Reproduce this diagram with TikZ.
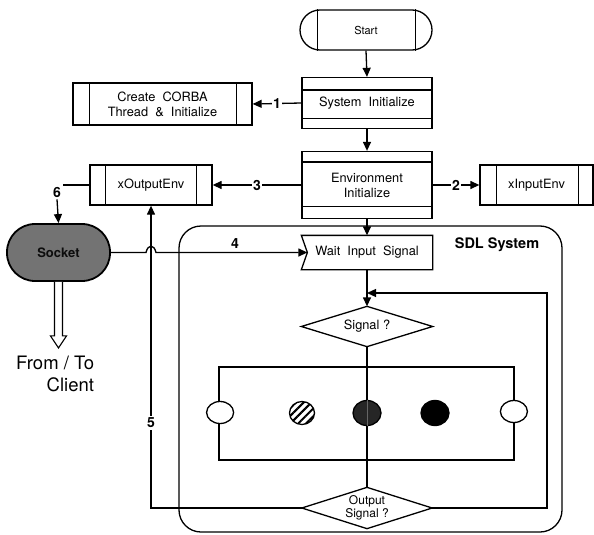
\documentclass[tikz,border=0pt]{standalone}
\usepackage{fontspec}
\setmainfont{TeX Gyre Heros}
\usetikzlibrary{arrows.meta,calc,patterns.meta,shapes.geometric}
\begin{document}
\begin{tikzpicture}[x=1pt,y=-1pt, line width=1.3pt,
  tip/.style={-{Triangle[length=9pt,width=8pt]}},
  box/.style={draw, rectangle, inner sep=0pt, font=\fontsize{12.8}{15}\selectfont, align=center},
  txt/.style={font=\fontsize{12.8}{15}\selectfont, align=center, inner sep=0pt},
  lbl/.style={font=\bfseries\fontsize{14}{16}\selectfont, fill=white, inner sep=1.5pt},
  blob/.style={draw, ellipse, inner sep=0pt, minimum width=27pt, minimum height=23pt}
]
\useasboundingbox (0,0) rectangle (594,535);

% SDL frame
\node[draw, rounded corners=22pt, minimum width=383pt, minimum height=306pt, line width=1.3pt] (sdl) at (370.5,379) {};
\node[font=\bfseries\fontsize{14.5}{16}\selectfont] (sdltitle) at (497,245) {SDL System};

% Start
\node[box, minimum width=132pt, minimum height=40pt, rounded corners=20pt, font=\fontsize{11}{12}\selectfont] (start) at (366,30) {Start};
\draw ($(start.north west)+(18,0)$) -- ($(start.south west)+(18,0)$);
\draw ($(start.north east)+(-17,0)$) -- ($(start.south east)+(-17,0)$);

% System Initialize
\node[box, minimum width=130pt, minimum height=51pt] (sys) at (367,103) {System\ \ Initialize};
\draw ($(sys.north west)+(0,13)$) -- ($(sys.north east)+(0,13)$);
\draw ($(sys.south west)+(0,-11)$) -- ($(sys.south east)+(0,-11)$);

% Environment Initialize
\node[box, minimum width=130pt, minimum height=67pt] (env) at (367,185) {Environment\\Initialize};
\draw ($(env.north west)+(0,11)$) -- ($(env.north east)+(0,11)$);
\draw ($(env.south west)+(0,-13)$) -- ($(env.south east)+(0,-13)$);

% Create CORBA
\node[box, minimum width=179pt, minimum height=42pt] (corba) at (162.5,104) {Create\ \ CORBA\\Thread \ \&\ \ Initialize};
\draw ($(corba.north west)+(17,0)$) -- ($(corba.south west)+(17,0)$);
\draw ($(corba.north east)+(-16,0)$) -- ($(corba.south east)+(-16,0)$);

% xOutputEnv
\node[box, minimum width=122pt, minimum height=40pt] (xout) at (151,185) {xOutputEnv};
\draw ($(xout.north west)+(16,0)$) -- ($(xout.south west)+(16,0)$);
\draw ($(xout.north east)+(-16,0)$) -- ($(xout.south east)+(-16,0)$);

% xInputEnv
\node[box, minimum width=113pt, minimum height=40pt] (xin) at (536.5,185) {xInputEnv};
\draw ($(xin.north west)+(17,0)$) -- ($(xin.south west)+(17,0)$);
\draw ($(xin.north east)+(-15,0)$) -- ($(xin.south east)+(-15,0)$);

% Socket
\node[draw, line width=1.8pt, fill=black!55, rounded corners=28pt, minimum width=103pt, minimum height=57pt, font=\bfseries\fontsize{13}{14}\selectfont, text=black!95] (sock) at (58.5,252.5) {Socket};
\draw[fill=white, line width=1.1pt] ($(sock.south)+(-4,0)$) -- ($(sock.south)+(-4,54)$) -- ($(sock.south)+(-8,54)$) -- ($(sock.south)+(0,66)$) -- ($(sock.south)+(8,54)$) -- ($(sock.south)+(4,54)$) -- ($(sock.south)+(4,0)$);
\node[align=right, anchor=east, font=\fontsize{18.5}{22}\selectfont] (client) at (98,374) {From / To\\Client};

% Wait Input Signal
\node[txt, minimum width=130pt, minimum height=33pt] (wait) at (367,252.5) {Wait\ \ Input\ \ Signal};
\coordinate (waitin) at ($(wait.west)+(6,0)$);
\draw (wait.north west) -- (wait.north east) -- (wait.south east) -- (wait.south west) -- (waitin) -- cycle;

% Signal ?
\node[txt, minimum width=130pt, minimum height=39pt] (sig) at (367,326.5) {Signal ?};
\draw (sig.north) -- (sig.east) -- (sig.south) -- (sig.west) -- cycle;

% Output Signal ?
\node[txt, minimum width=129pt, minimum height=40pt, font=\fontsize{12}{12.5}\selectfont] (out) at (367,508) {Output\\Signal ?};
\draw (out.north) -- (out.east) -- (out.south) -- (out.west) -- cycle;

% process rectangle
\draw (sig.south) -- (out.north);
\node[draw, line width=1.8pt, minimum width=295pt, minimum height=93pt] (proc) at (366.5,413.5) {};
\node[blob, fill=white, minimum width=27pt, minimum height=22pt] (e1) at ($(proc.west)+(2,-1)$) {};
\node[blob, pattern={Lines[angle=45,distance=5.5pt,line width=2pt]}, minimum width=25pt] (e2) at (302,413) {};
\node[blob, fill=black!85, minimum width=28pt, minimum height=25pt] (e3) at (367,413) {};
\node[blob, fill=black, minimum width=28pt, minimum height=25pt] (e4) at (435,413) {};
\node[blob, fill=white, minimum width=27pt, minimum height=22pt] (e5) at ($(proc.east)+(-1,-2)$) {};
\draw[black!60, line width=0.6pt] (e3.north) -- (e3.south);

% connectors
\draw[tip] (start.south) -- (sys.north);
\draw[tip] (sys.south) -- (env.north);
\draw[tip] (sys.west) -- (corba.east) node[lbl, midway] {1};
\draw[tip] (env.west) -- (xout.east) node[lbl, midway] {3};
\draw[tip] (env.east) -- (xin.west) node[lbl, midway] {2};
\node[lbl] (six) at (57,192) {6};
\draw (xout.west) -- (xout.west -| six.east);
\draw[tip] (six.south) -- (sock.north);
\draw[tip] (env.south) -- (wait.north);
\draw[tip] (wait.south) -- (sig.north);
\draw[tip] (sock.east) -- (146,252.5) .. controls (148,244) and (154,244) .. (156,252.5) -- (waitin);
\node[font=\bfseries\fontsize{14}{16}\selectfont] (four) at (235,244) {4};
\coordinate (fbr) at (547,293);
\draw[tip] (out.east) -| (fbr) -- (fbr -| sig.north);
\draw[tip] (out.west) -| (xout.south);
\node[lbl] (five) at (151,423) {5};
\end{tikzpicture}
\end{document}
